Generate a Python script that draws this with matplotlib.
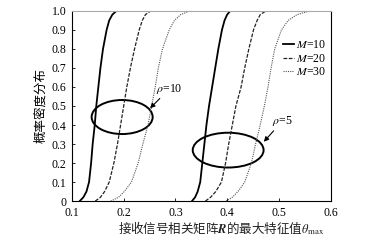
import matplotlib.pyplot as plt
from matplotlib.patches import Ellipse

plt.rcParams['font.family'] = ['Liberation Serif', 'Noto Sans CJK SC']
plt.rcParams['mathtext.fontset'] = 'stix'

# CDF levels shared by all curves
cdf = [0, 0.02, 0.05, 0.1, 0.2, 0.3, 0.4, 0.5, 0.6, 0.7, 0.8, 0.9, 0.95, 0.98, 1.0, 1.0]

# rho = 10
m10_rho10 = [0.115, 0.122, 0.128, 0.133, 0.137, 0.140, 0.144, 0.147, 0.151, 0.155, 0.160, 0.167, 0.172, 0.178, 0.186, 0.200]
m20_rho10 = [0.145, 0.155, 0.163, 0.172, 0.181, 0.188, 0.194, 0.200, 0.206, 0.213, 0.221, 0.230, 0.236, 0.242, 0.252, 0.262]
m30_rho10 = [0.175, 0.190, 0.201, 0.215, 0.228, 0.237, 0.247, 0.254, 0.261, 0.267, 0.275, 0.288, 0.298, 0.310, 0.328, 0.345]
# rho = 5
m10_rho5 = [0.332, 0.338, 0.343, 0.348, 0.352, 0.356, 0.360, 0.365, 0.371, 0.377, 0.383, 0.390, 0.395, 0.400, 0.406, 0.418]
m20_rho5 = [0.358, 0.368, 0.378, 0.389, 0.397, 0.403, 0.410, 0.417, 0.427, 0.434, 0.442, 0.451, 0.458, 0.464, 0.475, 0.488]
m30_rho5 = [0.398, 0.410, 0.421, 0.434, 0.447, 0.455, 0.464, 0.472, 0.479, 0.485, 0.492, 0.505, 0.518, 0.535, 0.560, 0.575]

xticks = [0.1, 0.2, 0.3, 0.4, 0.5, 0.6]
yticks = [0, 0.1, 0.2, 0.3, 0.4, 0.5, 0.6, 0.7, 0.8, 0.9, 1.0]
ytick_labels = ['0', '0.1', '0.2', '0.3', '0.4', '0.5', '0.6', '0.7', '0.8', '0.9', '1.0']

fig = plt.figure(figsize=(3.71, 2.42), dpi=100)
ax = fig.add_axes([0.194, 0.169, 0.697, 0.786])

solid = dict(color='black', lw=1.3, ls='-')
dashed = dict(color='#222222', lw=0.9, ls=(0, (3, 1.2)))
dotted = dict(color='#555555', lw=0.8, ls=(0, (1, 1)))

ax.plot(m10_rho10, cdf, label='$M$=10', **solid)
ax.plot(m20_rho10, cdf, label='$M$=20', **dashed)
ax.plot(m30_rho10, cdf, label='$M$=30', **dotted)
ax.plot(m10_rho5, cdf, **solid)
ax.plot(m20_rho5, cdf, **dashed)
ax.plot(m30_rho5, cdf, **dotted)

ax.add_patch(Ellipse((0.197, 0.442), 0.118, 0.179, fill=False, lw=1.4, color='black'))
ax.add_patch(Ellipse((0.402, 0.268), 0.137, 0.183, fill=False, lw=1.4, color='black'))

ax.annotate(r'$\rho$=10', xy=(0.251, 0.488), xytext=(0.263, 0.575), fontsize=8.5,
            arrowprops=dict(arrowstyle='-|>', color='black', lw=0.8, mutation_scale=7,
                            shrinkA=0, shrinkB=0))
ax.annotate(r'$\rho$=5', xy=(0.471, 0.312), xytext=(0.487, 0.405), fontsize=8.5,
            arrowprops=dict(arrowstyle='-|>', color='black', lw=0.8, mutation_scale=7,
                            shrinkA=0, shrinkB=0))

ax.set_xlim(0.1, 0.6)
ax.set_ylim(0, 1.0)
ax.set_xticks(xticks)
ax.set_xticklabels([f'{v:.1f}' for v in xticks])
ax.set_yticks(yticks)
ax.set_yticklabels(ytick_labels)
ax.tick_params(direction='in', length=2.5, width=0.6, labelsize=8.5)
ax.tick_params(axis='x', pad=4)
ax.tick_params(axis='y', pad=4)
for side in ['left', 'bottom', 'right']:
    ax.spines[side].set_linewidth(0.8)
ax.spines['top'].set_color('#aaaaaa')

leg = ax.legend(loc='upper right', bbox_to_anchor=(1.01, 0.89), frameon=False, fontsize=8.5,
                handlelength=0.9, handletextpad=0.2, labelspacing=0.15, borderaxespad=0.2)

ax.set_ylabel('概率密度分布', fontsize=9, family=['Noto Sans CJK SC'], labelpad=3)
fig.text(0.318, 0.035, r'接收信号相关矩阵$\boldsymbol{R}$的最大特征值$\theta_{\mathrm{max}}$',
         fontsize=9, family=['Noto Sans CJK SC', 'DejaVu Sans'], color='#222222')

fig.savefig('out.png', dpi=100)
